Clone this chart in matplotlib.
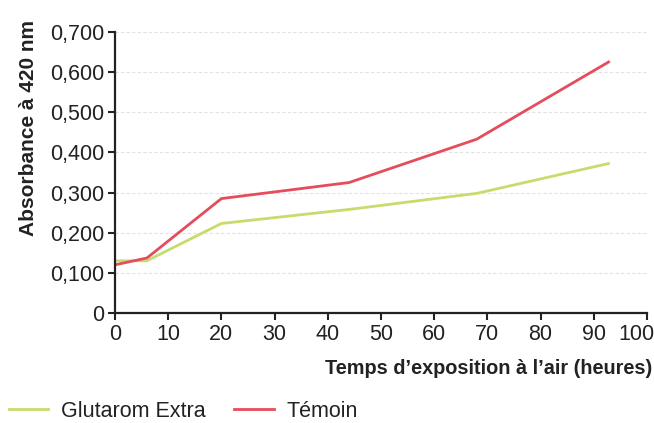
import numpy as np
import matplotlib.pyplot as plt
from matplotlib.lines import Line2D
from matplotlib.transforms import ScaledTranslation

plt.rcParams['font.family'] = ['Liberation Sans', 'DejaVu Sans']

# Data
hours = [0, 6, 20, 44, 68, 93]
glutarom = [0.130, 0.130, 0.223, 0.258, 0.298, 0.373]
temoin = [0.120, 0.137, 0.285, 0.325, 0.433, 0.627]
yticks = [0, 0.1, 0.2, 0.3, 0.4, 0.5, 0.6, 0.7]
ylabels = ['0', '0,100', '0,200', '0,300', '0,400', '0,500', '0,600', '0,700']
xticks = np.arange(0, 101, 10)

green = '#c6dc6c'
red = '#e54c5c'

fig = plt.figure(figsize=(6.54, 4.23), dpi=100)
ax = fig.add_axes([115/654, 1-313/423, (647-115)/654, (313-32)/423])

ax.plot(hours, glutarom, color=green, lw=2.0, solid_capstyle='butt')
ax.plot(hours, temoin, color=red, lw=2.0, solid_capstyle='butt')

ax.set_xlim(0, 100)
ax.set_ylim(0, 0.7)
ax.set_xticks(xticks)
ax.set_yticks(yticks)
ax.set_yticklabels(ylabels)
ax.tick_params(labelsize=15.5, width=1.5, length=5, color='#222222', labelcolor='#222222', pad=3)

# last x label pulled left so it stays on the page
lbl = ax.get_xticklabels()[-1]
lbl.set_transform(lbl.get_transform() + ScaledTranslation(-11/100, 0, fig.dpi_scale_trans))

for g in yticks[1:]:
    ax.axhline(g, color='#e2e2e2', lw=0.8, ls=(0, (3, 2)), zorder=0)

for s in ['top', 'right']:
    ax.spines[s].set_visible(False)
for s in ['left', 'bottom']:
    ax.spines[s].set_linewidth(1.6)
    ax.spines[s].set_color('#222222')

fig.text(652/654, 1-368/423, "Temps d\u2019exposition à l\u2019air (heures)", ha='right', va='center',
         fontsize=14.3, fontweight='bold', color='#222222')
fig.text(29/654, 1-20/423, "Absorbance à 420 nm", ha='center', va='top', rotation=90,
         fontsize=15, fontweight='bold', color='#222222')

handles = [Line2D([], [], color=green, lw=2), Line2D([], [], color=red, lw=2)]
fig.legend(handles, ['Glutarom Extra', 'Témoin'], loc='center left', bbox_to_anchor=(0.0, 1-411/423),
           ncol=2, frameon=False, fontsize=15.5, handlelength=1.85, columnspacing=1.3, handletextpad=0.6,
           borderaxespad=0, borderpad=0.4, labelcolor='#222222')

fig.savefig('out.png', dpi=100)
